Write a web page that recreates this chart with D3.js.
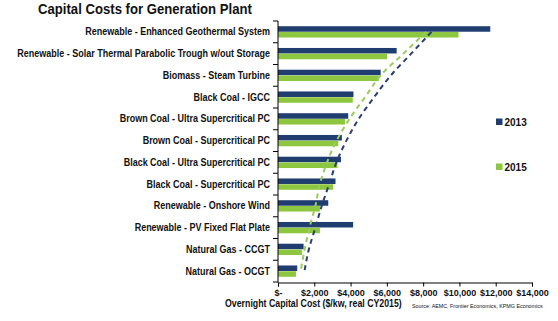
<!DOCTYPE html>
<html>
<head>
<meta charset="utf-8">
<script src="https://cdn.jsdelivr.net/npm/d3@7"></script>
<style>
  body { margin: 0; background: #fff; }
  svg text { font-family: "Liberation Sans", Arial, sans-serif; font-weight: bold; fill: #111; }
</style>
</head>
<body>
<svg id="chart" width="558" height="321"></svg>
<script>
// --- data ---
const categories = [
    "Renewable - Enhanced Geothermal System",
    "Renewable - Solar Thermal Parabolic Trough w/out Storage",
    "Biomass - Steam Turbine",
    "Black Coal - IGCC",
    "Brown Coal - Ultra Supercritical PC",
    "Brown Coal - Supercritical PC",
    "Black Coal - Ultra Supercritical PC",
    "Black Coal - Supercritical PC",
    "Renewable - Onshore Wind",
    "Renewable - PV Fixed Flat Plate",
    "Natural Gas - CCGT",
    "Natural Gas - OCGT",
];
const seriesNames = ["2013", "2015"];
const cost2013 = [11700, 6540, 5660, 4160, 3870, 3520, 3470, 3170, 2770, 4140, 1410, 1060];
const cost2015 = [9950, 6010, 5560, 4120, 3690, 3320, 3280, 3040, 2310, 2310, 1320, 990];
// trend lines drawn behind the bars, value at each category
const trend2013 = [8460, 7340, 6220, 5300, 4450, 3770, 3220, 2820, 2410, 2060, 1700, 1460];
const trend2015 = [8170, 6910, 5660, 4800, 3940, 3230, 2700, 2310, 2060, 1740, 1470, 1250];
const xTicks = [0, 2000, 4000, 6000, 8000, 10000, 12000, 14000];

const COLORS = { "2013": "#1f3e6f", "2015": "#8dc63f" };
const TREND_COLORS = { "2013": "#2b3f6c", "2015": "#99cc5c" };

const svg = d3.select("#chart");
const margin = { left: 278, right: 26, top: 21, bottom: 39 };
const W = 558, H = 321;

const x = d3.scaleLinear().domain([0, 14000]).range([margin.left, W - margin.right]);
const y = d3.scaleBand().domain(categories).range([margin.top, H - margin.bottom])
    .paddingInner(0.48).paddingOuter(0.24);
const ySub = d3.scaleBand().domain(seriesNames).range([0, y.bandwidth()]).paddingInner(0.05);

const data = categories.map((c, i) => ({ cat: c, values: { "2013": cost2013[i], "2015": cost2015[i] } }));

// squeeze a text horizontally so it spans the given width from its anchor
function fitWidth(sel, width) {
    sel.each(function () {
        const t = d3.select(this);
        const len = this.getComputedTextLength();
        const x0 = +t.attr("x"), y0 = +t.attr("y");
        t.attr("x", 0).attr("y", 0)
            .attr("transform", `translate(${x0},${y0}) scale(${width / len},1)`);
    });
}

// title
svg.append("text")
    .attr("x", 38).attr("y", 14)
    .style("font-size", "15px")
    .text("Capital Costs for Generation Plant")
    .call(fitWidth, 214);

// bars
const groups = svg.selectAll(".cat")
    .data(data)
    .enter()
    .append("g")
    .attr("class", "cat")
    .attr("transform", (d) => `translate(0,${y(d.cat)})`);

groups.selectAll("rect")
    .data((d) => seriesNames.map((s) => ({ s, v: d.values[s] })))
    .enter()
    .append("rect")
    .attr("x", x(0))
    .attr("y", (d) => ySub(d.s))
    .attr("width", (d) => x(d.v) - x(0))
    .attr("height", ySub.bandwidth())
    .attr("fill", (d) => COLORS[d.s]);

// dashed trend lines
const trendLine = d3.line()
    .x((d) => x(d.v))
    .y((d) => y(d.cat) + y.bandwidth() / 2)
    .curve(d3.curveMonotoneY);

[["2015", trend2015], ["2013", trend2013]].forEach(([s, vals]) => {
    svg.append("path")
        .datum(categories.map((c, i) => ({ cat: c, v: vals[i] })))
        .attr("d", trendLine)
        .attr("fill", "none")
        .attr("stroke", TREND_COLORS[s])
        .attr("stroke-width", 2)
        .attr("stroke-dasharray", "5,4");
});

// y axis: line + ticks between categories
const yAxis = svg.append("g").attr("transform", `translate(${x(0)},0)`);
yAxis.append("line")
    .attr("x1", 0).attr("x2", 0)
    .attr("y1", margin.top).attr("y2", H - margin.bottom + 0.5)
    .attr("stroke", "#000");
const boundaries = d3.range(categories.length + 1).map((i) => margin.top + i * y.step());
yAxis.selectAll(".ytick")
    .data(boundaries)
    .enter()
    .append("line")
    .attr("x1", -5).attr("x2", 0)
    .attr("y1", (d) => d).attr("y2", (d) => d)
    .attr("stroke", "#000");

// category labels (condensed)
svg.selectAll(".catlabel")
    .data(categories)
    .enter()
    .append("text")
    .attr("transform", (d) => `translate(270,${y(d) + y.bandwidth() / 2}) scale(0.9,1)`)
    .attr("dy", "0.35em")
    .attr("text-anchor", "end")
    .style("font-size", "10px")
    .text((d) => d);

// x axis
const xAxis = svg.append("g")
    .attr("transform", `translate(0,${H - margin.bottom + 0.5})`)
    .call(d3.axisBottom(x).tickValues(xTicks).tickSize(4).tickPadding(3)
        .tickFormat((d) => (d === 0 ? "$-" : d3.format("$,")(d))));
xAxis.select(".domain").attr("stroke", "#000");
xAxis.selectAll(".tick line").attr("stroke", "#000");
xAxis.selectAll("text")
    .style("font-size", "9px")
    .style("font-family", null)
    .attr("fill", "#111");

svg.append("text")
    .attr("x", 225).attr("y", 307)
    .style("font-size", "10.5px")
    .text("Overnight Capital Cost ($/kw, real CY2015)")
    .call(fitWidth, 177);

svg.append("text")
    .attr("x", 412).attr("y", 307.5)
    .style("font-size", "5px")
    .style("font-weight", "normal")
    .text("Source:  AEMC, Frontier Economics, KPMG Economics")
    .call(fitWidth, 131);

// legend
const legend = svg.selectAll(".legend")
    .data(seriesNames)
    .enter()
    .append("g")
    .attr("class", "legend")
    .attr("transform", (d, i) => `translate(496,${118.5 + i * 45})`);
legend.append("rect")
    .attr("width", 6.5).attr("height", 6.5)
    .attr("fill", (d) => COLORS[d]);
legend.append("text")
    .attr("x", 8.5).attr("y", 3.5)
    .attr("dy", "0.35em")
    .style("font-size", "10px")
    .text((d) => d);
</script>
</body>
</html>
